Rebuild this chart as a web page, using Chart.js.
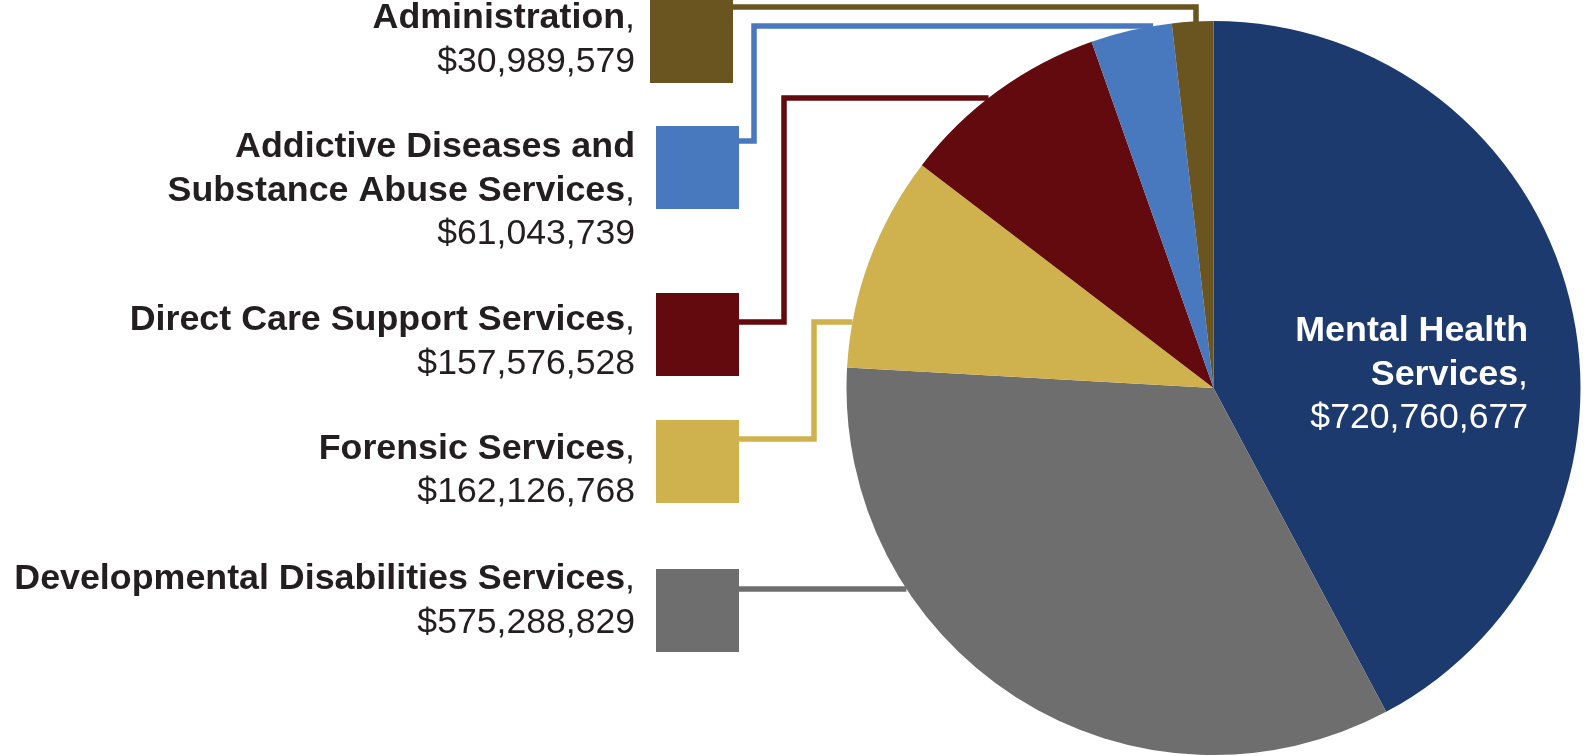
<!DOCTYPE html>
<html>
<head>
<meta charset="utf-8">
<script src="https://cdn.jsdelivr.net/npm/chart.js@4/dist/chart.umd.min.js"></script>
<style>
html,body{margin:0;padding:0;background:#fff;}
#wrap{width:1586px;height:756px;position:relative;}
</style>
</head>
<body>
<div id="wrap"><canvas id="c"></canvas></div>
<script>
// ---- data ----
const categories = [
  "Mental Health Services",
  "Developmental Disabilities Services",
  "Forensic Services",
  "Direct Care Support Services",
  "Addictive Diseases and Substance Abuse Services",
  "Administration"
];
const values = [720760677, 575288829, 162126768, 157576528, 61043739, 30989579];
const nameLines = [
  ["Mental Health", "Services"],
  ["Developmental Disabilities Services"],
  ["Forensic Services"],
  ["Direct Care Support Services"],
  ["Addictive Diseases and", "Substance Abuse Services"],
  ["Administration"]
];
const colors = ["#1C3A6E", "#6E6E6E", "#CFB24E", "#620A0E", "#4878BE", "#6A5420"];

// ---- style / layout ----
const FONT_FAMILY = '"Liberation Sans", Arial, Helvetica, sans-serif';
const BOLD_SIZE = 35.8;
const REG_SIZE = 35.6;
const LINE_H = 43.5;
const TEXT_COLOR = "#231F20";
const LABEL_RIGHT = 635;
const SQ = 83;
const LEAD_W = 5.5;
// left legend items: square position, first text baseline, leader path (last point snaps to pie edge)
const leftItems = {
  5: {sq:[650, 0],   base:28,  path:[[733,7],[1196,7]], end:"vertical"},
  4: {sq:[656,126],  base:157, path:[[739,141],[754,141],[754,26]], end:"horizontal"},
  3: {sq:[656,293],  base:330, path:[[739,322],[784,322],[784,98]], end:"horizontal"},
  2: {sq:[656,420],  base:458.5, path:[[739,439],[814,439],[814,322]], end:"horizontal"},
  1: {sq:[656,569],  base:589, path:[[739,589]], end:"horizontal"}
};
const insideLabel = {index:0, dxRight:314.5, base0:-47};

function fmt(v){ return "$" + v.toLocaleString("en-US"); }

function drawNameLines(ctx, lines, valueText, right, base, color){
  ctx.textAlign = "right";
  ctx.textBaseline = "alphabetic";
  ctx.fillStyle = color;
  const regular = REG_SIZE + "px " + FONT_FAMILY;
  const bold = "bold " + BOLD_SIZE + "px " + FONT_FAMILY;
  let y = base;
  lines.forEach((ln, k) => {
    if (k === lines.length - 1) {
      ctx.font = regular;
      const cw = ctx.measureText(",").width;
      ctx.fillText(",", right, y);
      ctx.font = bold;
      ctx.fillText(ln, right - cw, y);
    } else {
      ctx.font = bold;
      ctx.fillText(ln, right, y);
    }
    y += LINE_H;
  });
  ctx.font = regular;
  ctx.fillText(valueText, right, y);
}

const leaderPlugin = {
  id: "leaders",
  afterDatasetsDraw(chart) {
    const ctx = chart.ctx;
    const meta = chart.getDatasetMeta(0);
    const a0 = meta.data[0];
    const cx = a0.x, cy = a0.y, r = a0.outerRadius;
    ctx.save();
    Object.keys(leftItems).forEach(key => {
      const i = +key;
      const it = leftItems[i];
      const col = meta.data[i].options.backgroundColor;
      // leader line
      const pts = it.path.slice();
      const last = pts[pts.length - 1];
      if (it.end === "horizontal") {
        const dy = last[1] - cy;
        pts.push([cx - Math.sqrt(r*r - dy*dy), last[1]]);
      } else {
        const dx = last[0] - cx;
        pts.push([last[0], cy - Math.sqrt(r*r - dx*dx) + 1]);
      }
      ctx.beginPath();
      ctx.moveTo(pts[0][0], pts[0][1]);
      for (let k = 1; k < pts.length; k++) ctx.lineTo(pts[k][0], pts[k][1]);
      ctx.strokeStyle = col;
      ctx.lineWidth = LEAD_W;
      ctx.lineJoin = "miter";
      ctx.lineCap = "butt";
      ctx.stroke();
      // square
      ctx.fillStyle = col;
      ctx.fillRect(it.sq[0], it.sq[1], SQ, SQ);
      // text
      drawNameLines(ctx, nameLines[i], fmt(values[i]), LABEL_RIGHT, it.base, TEXT_COLOR);
    });
    // inside label
    const ii = insideLabel.index;
    drawNameLines(ctx, nameLines[ii], fmt(values[ii]), cx + insideLabel.dxRight, cy + insideLabel.base0, "#FFFFFF");
    ctx.restore();
  }
};

new Chart(document.getElementById("c"), {
  type: "pie",
  data: {
    labels: categories,
    datasets: [{
      data: values,
      backgroundColor: colors,
      borderWidth: 0,
      hoverOffset: 0
    }]
  },
  options: {
    responsive: true,
    maintainAspectRatio: false,
    animation: false,
    devicePixelRatio: 1,
    layout: { padding: { left: 846, right: 5, top: 21, bottom: 1 } },
    plugins: { legend: { display: false }, tooltip: { enabled: false } }
  },
  plugins: [leaderPlugin]
});
</script>
</body>
</html>
